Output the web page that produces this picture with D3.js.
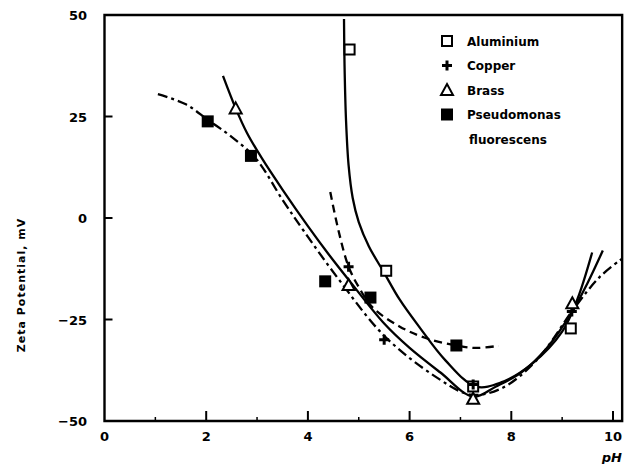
<!DOCTYPE html>
<html>
<head>
    <title>Zeta Potential vs pH</title>
    <script src="https://cdn.jsdelivr.net/npm/d3@7"></script>
</head>
<style>
body { margin: 0; background: white; }
text { font-family: "DejaVu Sans", sans-serif; font-weight: bold; fill: black; }
</style>
<body>
<script>

// fitted curves [pH, mV]
var aluminiumCurve = [[4.71, 49], [4.72, 38], [4.75, 24], [4.8, 13], [4.88, 5], [5.0, -1], [5.2, -7],
                      [5.5, -13.5], [5.8, -20], [6.2, -27], [6.7, -35], [7.3, -41.5], [7.8, -40.5],
                      [8.4, -36], [9.0, -28], [9.3, -20], [9.59, -8.5]];
var brassCurve = [[2.33, 35], [2.58, 27], [2.8, 21], [3.1, 14.6], [3.5, 7], [4.0, -2], [4.4, -8.8],
                  [4.8, -15.2], [5.5, -26], [6.0, -32], [6.6, -38], [7.25, -44], [7.7, -41.5],
                  [8.2, -38], [8.7, -32], [9.2, -23], [9.5, -16], [9.8, -8]];
var copperCurve = [[4.44, 6.4], [4.6, -3], [4.8, -12], [5.0, -17], [5.27, -22], [5.8, -26.7],
                   [6.3, -29.5], [6.92, -31.4], [7.3, -32], [7.75, -31.5]];
var pseudoCurve = [[1.05, 30.5], [1.6, 28], [2.05, 24], [2.5, 20], [2.98, 14.6], [3.5, 4.5],
                   [3.92, -3.2], [4.6, -15], [5.5, -29], [6.5, -39], [7.2, -43.5], [7.8, -42],
                   [8.5, -35], [9.25, -22], [9.74, -14.5], [10.18, -10]];

// measured points
var aluminiumPts = [[4.82, 41.5], [5.54, -13], [7.25, -41.5], [9.17, -27.2]];
var copperPts = [[4.8, -12], [5.5, -30], [7.25, -41], [9.19, -23]];
var brassPts = [[2.58, 27], [4.8, -16.5], [7.25, -44.5], [9.2, -21]];
var pseudoPts = [[2.03, 23.8], [2.88, 15.3], [4.34, -15.6], [5.23, -19.6], [6.92, -31.4]];

var xTicks = [0, 2, 4, 6, 8, 10];
var xMinor = [1, 3, 5, 7, 9];
var yTicks = [50, 25, 0, -25, -50];
var legendNames = ["Aluminium", "Copper", "Brass", "Pseudomonas"];

var w = 624;
var h = 464;

var svg = d3.select("body").append("svg")
                .attr("width", w)
                .attr("height", h);

var xScale = d3.scaleLinear().domain([0, 10]).range([104.5, 613]);
var yScale = d3.scaleLinear().domain([-50, 50]).range([421, 15]);

var xRight = xScale(10.18);

// frame
svg.append("path")
    .attr("d", "M" + xScale(0) + "," + yScale(-50) + "V" + yScale(50) + "H" + xRight + "V" + yScale(-50) + "Z")
    .attr("fill", "none")
    .attr("stroke", "black")
    .attr("stroke-width", 2.4);

// ticks
svg.selectAll("line.xmaj")
    .data(xTicks.slice(1))
    .enter()
    .append("line")
    .attr("x1", function(d) { return xScale(d); })
    .attr("x2", function(d) { return xScale(d); })
    .attr("y1", yScale(-50))
    .attr("y2", yScale(-50) - 10)
    .attr("stroke", "black")
    .attr("stroke-width", 2);

svg.selectAll("line.xmin")
    .data(xMinor)
    .enter()
    .append("line")
    .attr("x1", function(d) { return xScale(d); })
    .attr("x2", function(d) { return xScale(d); })
    .attr("y1", yScale(-50))
    .attr("y2", yScale(-50) - 4)
    .attr("stroke", "black")
    .attr("stroke-width", 1.5);

svg.selectAll("line.ytick")
    .data([25, 0, -25])
    .enter()
    .append("line")
    .attr("x1", xScale(0))
    .attr("x2", xScale(0) + 8)
    .attr("y1", function(d) { return yScale(d); })
    .attr("y2", function(d) { return yScale(d); })
    .attr("stroke", "black")
    .attr("stroke-width", 2);

svg.selectAll("text.xlab")
    .data(xTicks)
    .enter()
    .append("text")
    .text(function(d) { return d; })
    .attr("x", function(d) { return xScale(d); })
    .attr("y", 441)
    .attr("font-size", "13px")
    .attr("text-anchor", "middle");

svg.selectAll("text.ylab")
    .data(yTicks)
    .enter()
    .append("text")
    .text(function(d) { return d < 0 ? "\u2212" + (-d) : d; })
    .attr("x", 87)
    .attr("y", function(d) { return yScale(d) + 5; })
    .attr("font-size", "13px")
    .attr("text-anchor", "end");

svg.append("text")
    .text("pH")
    .attr("x", 622)
    .attr("y", 462)
    .attr("font-size", "13px")
    .attr("font-style", "italic")
    .attr("text-anchor", "end");

svg.append("text")
    .text("Zeta  Potential, mV")
    .attr("transform", "translate(25,285) rotate(-90)")
    .attr("font-size", "11px")
    .attr("letter-spacing", "1px")
    .attr("text-anchor", "middle");

// curves
var line = d3.line()
    .x(function(d) { return xScale(d[0]); })
    .y(function(d) { return yScale(d[1]); })
    .curve(d3.curveCatmullRom.alpha(0.5));

var curves = [
    {pts: aluminiumCurve, dash: null},
    {pts: brassCurve, dash: null},
    {pts: copperCurve, dash: "8,5"},
    {pts: pseudoCurve, dash: "10,4,3,4"}
];

svg.selectAll("path.curve")
    .data(curves)
    .enter()
    .append("path")
    .attr("d", function(d) { return line(d.pts); })
    .attr("fill", "none")
    .attr("stroke", "black")
    .attr("stroke-width", 2.3)
    .attr("stroke-dasharray", function(d) { return d.dash; });

// markers
function drawMarker(g, type, x, y) {
    if (type === 0) {
        g.append("rect").attr("x", x - 5).attr("y", y - 5).attr("width", 10).attr("height", 10)
            .attr("fill", "white").attr("stroke", "black").attr("stroke-width", 2);
    } else if (type === 1) {
        g.append("path").attr("d", "M" + (x - 5) + "," + y + "H" + (x + 5) + "M" + x + "," + (y - 5) + "V" + (y + 5))
            .attr("stroke", "black").attr("stroke-width", 3);
    } else if (type === 2) {
        g.append("path").attr("d", "M" + x + "," + (y - 6) + "L" + (x + 6) + "," + (y + 5) + "L" + (x - 6) + "," + (y + 5) + "Z")
            .attr("fill", "white").attr("stroke", "black").attr("stroke-width", 2);
    } else {
        g.append("rect").attr("x", x - 6).attr("y", y - 6).attr("width", 12).attr("height", 12)
            .attr("fill", "black");
    }
}

var allPts = [aluminiumPts, copperPts, brassPts, pseudoPts];
var mg = svg.append("g");
allPts.forEach(function(pts, t) {
    pts.forEach(function(p) {
        drawMarker(mg, t, xScale(p[0]), yScale(p[1]));
    });
});

// legend
var lg = svg.append("g");
legendNames.forEach(function(name, i) {
    var ly = 41 + i * 24.5;
    drawMarker(lg, i, 447, ly);
    lg.append("text")
        .text(name)
        .attr("x", 467)
        .attr("y", ly + 4.5)
        .attr("font-size", "12px");
});
lg.append("text")
    .text("fluorescens")
    .attr("x", 469)
    .attr("y", 41 + 4 * 24.5 + 4.5)
    .attr("font-size", "12px");

</script>
</body>
</html>
